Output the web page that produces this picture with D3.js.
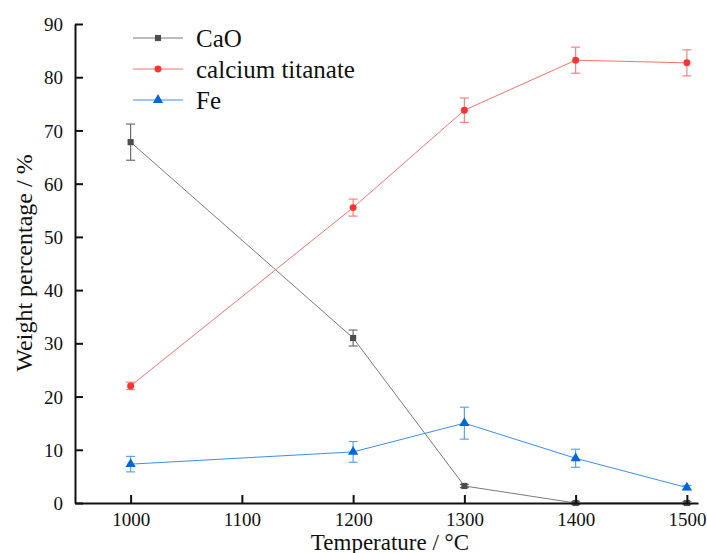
<!DOCTYPE html>
<html>
<head>
<meta charset="utf-8">
<script src="https://cdn.jsdelivr.net/npm/d3@7"></script>
<style>
  body { margin: 0; background: #fff; }
  svg text { font-family: "Liberation Serif", "Times New Roman", Times, serif !important; }
</style>
</head>
<body>
<script>
const temps = [1000, 1200, 1300, 1400, 1500];
const xTicks = [1000, 1100, 1200, 1300, 1400, 1500];
const yTicks = [0, 10, 20, 30, 40, 50, 60, 70, 80, 90];

const caoVals = [67.8, 31.0, 3.2, 0, 0];
const caoErr = [3.4, 1.5, 0.3, 0.3, 0.3];
const ctVals = [22.0, 55.5, 73.8, 83.2, 82.7];
const ctErr = [0.7, 1.6, 2.3, 2.45, 2.45];
const feVals = [7.3, 9.6, 15.0, 8.4, 2.9];
const feErr = [1.45, 1.95, 3.0, 1.7, 0.4];

const series = [
  {name: 'CaO', vals: caoVals, err: caoErr, marker: d3.symbolSquare, fill: '#4d4d4d', line: '#7a7a7a', bar: '#6e6e6e'},
  {name: 'calcium titanate', vals: ctVals, err: ctErr, marker: d3.symbolCircle, fill: '#ff3333', line: '#ff7070', bar: '#ff8080'},
  {name: 'Fe', vals: feVals, err: feErr, marker: d3.symbolTriangle, fill: '#0066dd', line: '#3a8ef0', bar: '#5fa2f0'}
];

const width = 707;
const height = 553;
const mLeft = 75, mRight = 698, mTop = 24, mBottom = 503;
const serif = '"Liberation Serif", "Times New Roman", serif';

const x = d3.scaleLinear().domain([950, 1510]).range([mLeft, mRight]);
const y = d3.scaleLinear().domain([0, 90]).range([mBottom, mTop]);

const svg = d3.select('body').append('svg')
  .attr('width', width)
  .attr('height', height)
  .attr('font-family', serif);

// lines, error bars, markers
series.forEach(s => {
  const pts = temps.map((t, i) => ({t: t, v: s.vals[i], e: s.err[i]}));

  svg.append('path')
    .datum(pts)
    .attr('fill', 'none')
    .attr('stroke', s.line)
    .attr('stroke-width', 1)
    .attr('d', d3.line().x(d => x(d.t)).y(d => y(d.v)));

  const eb = svg.append('g').attr('stroke', s.bar).attr('stroke-width', 1.2);
  pts.forEach(d => {
    const cx = x(d.t);
    eb.append('line').attr('x1', cx).attr('x2', cx).attr('y1', y(d.v + d.e)).attr('y2', y(d.v - d.e));
    eb.append('line').attr('x1', cx - 4.5).attr('x2', cx + 4.5).attr('y1', y(d.v + d.e)).attr('y2', y(d.v + d.e));
    eb.append('line').attr('x1', cx - 4.5).attr('x2', cx + 4.5).attr('y1', y(d.v - d.e)).attr('y2', y(d.v - d.e));
  });

  svg.append('g').selectAll('path')
    .data(pts)
    .enter()
    .append('path')
    .attr('transform', d => 'translate(' + x(d.t) + ',' + y(d.v) + ')')
    .attr('d', d3.symbol().type(s.marker).size(s.marker === d3.symbolTriangle ? 45 : 38))
    .attr('fill', s.fill);
});

// axes (ticks point inward)
const xAxis = d3.axisBottom(x).tickValues(xTicks).tickFormat(d3.format('d'))
  .tickSizeInner(-8).tickSizeOuter(0).tickPadding(10);
const yAxis = d3.axisLeft(y).tickValues(yTicks).tickFormat(d3.format('d'))
  .tickSizeInner(-8).tickSizeOuter(0).tickPadding(12);

const gx = svg.append('g')
  .attr('transform', 'translate(0,' + mBottom + ')')
  .call(xAxis);
const gy = svg.append('g')
  .attr('transform', 'translate(' + mLeft + ',0)')
  .call(yAxis);

[gx, gy].forEach(g => {
  g.attr('font-family', serif).attr('font-size', 19);
  g.select('.domain').attr('stroke', '#111').attr('stroke-width', 2);
  g.selectAll('.tick line').attr('stroke', '#111').attr('stroke-width', 2);
  g.selectAll('.tick text').attr('fill', '#111');
});
gy.selectAll('.tick text').attr('dy', '0.35em');

svg.append('text')
  .attr('x', 390)
  .attr('y', 550)
  .attr('text-anchor', 'middle')
  .attr('font-size', 23)
  .attr('fill', '#111')
  .text('Temperature / °C');

svg.append('text')
  .attr('transform', 'translate(32,263) rotate(-90)')
  .attr('text-anchor', 'middle')
  .attr('font-size', 24)
  .attr('fill', '#111')
  .text('Weight percentage / %');

// legend
const legend = svg.append('g');
series.forEach((s, i) => {
  const ly = 38 + i * 31;
  legend.append('line')
    .attr('x1', 133).attr('x2', 183).attr('y1', ly).attr('y2', ly)
    .attr('stroke', s.line).attr('stroke-width', 1.2);
  legend.append('path')
    .attr('transform', 'translate(158,' + ly + ')')
    .attr('d', d3.symbol().type(s.marker).size(s.marker === d3.symbolTriangle ? 45 : 38))
    .attr('fill', s.fill);
  legend.append('text')
    .attr('x', 196).attr('y', ly)
    .attr('dy', '0.35em')
    .attr('font-size', 25)
    .attr('fill', '#111')
    .text(s.name);
});
</script>
</body>
</html>
